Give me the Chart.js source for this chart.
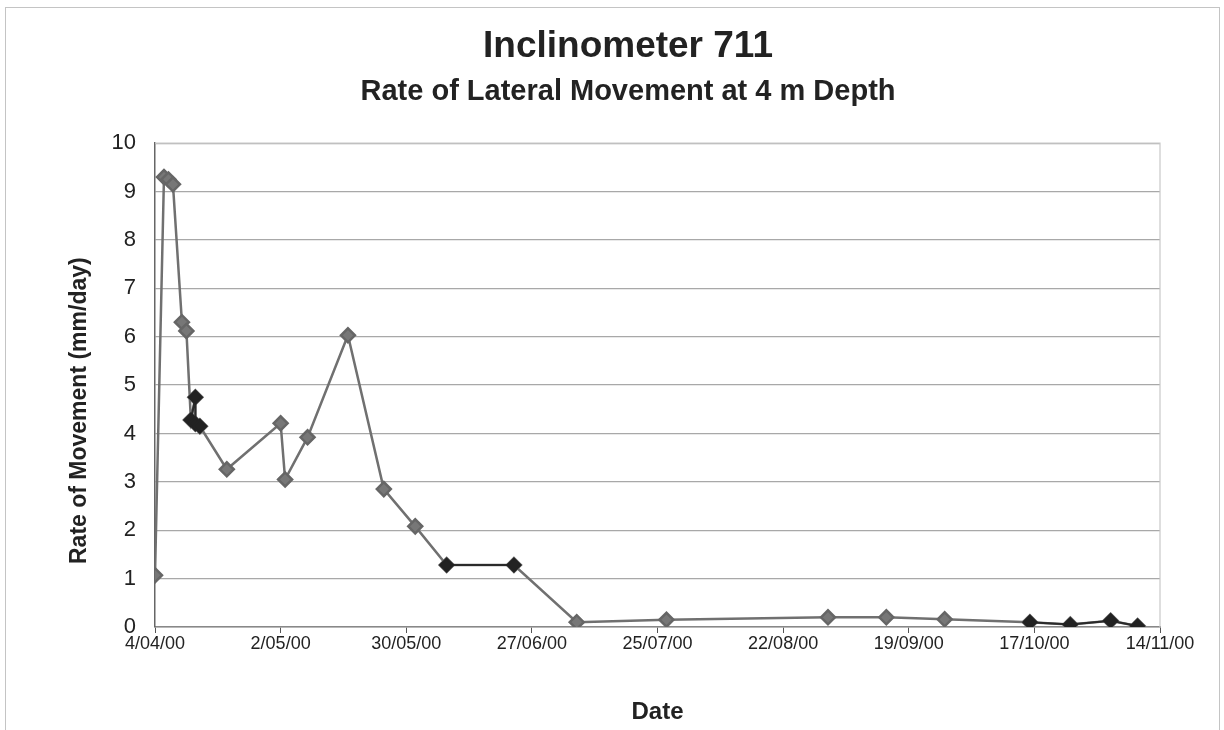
<!DOCTYPE html>
<html>
<head>
<meta charset="utf-8">
<script src="https://cdn.jsdelivr.net/npm/chart.js@4.4.0/dist/chart.umd.min.js"></script>
<style>
  body { margin: 0; background: #fff; }
  #wrap { position: absolute; left: 5px; top: 7px; width: 1213px; height: 740px; border: 1px solid #c4c4c4; }
  #chart { position: absolute; left: 0; top: 0; }
</style>
</head>
<body>
<div id="wrap"></div>
<canvas id="chart" width="1224" height="730"></canvas>
<script>
// Leituras do inclinómetro 711 (datas dd/mm/yy, taxa em mm/dia)
const startDate = '2000-04-04';
const surveyDates = ['2000-04-04', '2000-04-06', '2000-04-07', '2000-04-08', '2000-04-10', '2000-04-11',
    '2000-04-12', '2000-04-13', '2000-04-13', '2000-04-14', '2000-04-20', '2000-05-02', '2000-05-03',
    '2000-05-08', '2000-05-17', '2000-05-25', '2000-06-01', '2000-06-08', '2000-06-23', '2000-07-07',
    '2000-07-27', '2000-09-01', '2000-09-14', '2000-09-27', '2000-10-16', '2000-10-25', '2000-11-03',
    '2000-11-09'];
const rateValues = [1.07, 9.3, 9.25, 9.15, 6.3, 6.12,
    4.28, 4.75, 4.2, 4.15, 3.26, 4.21, 3.05,
    3.92, 6.03, 2.85, 2.08, 1.28, 1.28, 0.1,
    0.15, 0.2, 0.2, 0.16, 0.1, 0.05, 0.13,
    0.02];
// leituras destacadas (marcadores escuros)
const darkDates = ['2000-04-12', '2000-04-13', '2000-04-13', '2000-04-14', null, '2000-06-08', '2000-06-23', null,
    '2000-10-16', '2000-10-25', '2000-11-03', '2000-11-09'];
const darkValues = [4.28, 4.75, 4.2, 4.15, null, 1.28, 1.28, null, 0.1, 0.05, 0.13, 0.02];
const xTickDays = [0, 28, 56, 84, 112, 140, 168, 196, 224];
const yTicks = [0, 1, 2, 3, 4, 5, 6, 7, 8, 9, 10];

const DAY = 86400000;
function toDay(s) {
    const [y, m, d] = s.split('-').map(Number);
    const [y0, m0, d0] = startDate.split('-').map(Number);
    return (Date.UTC(y, m - 1, d) - Date.UTC(y0, m0 - 1, d0)) / DAY;
}
function dayLabel(n) {
    const [y0, m0, d0] = startDate.split('-').map(Number);
    const dt = new Date(Date.UTC(y0, m0 - 1, d0) + n * DAY);
    const dd = dt.getUTCDate();
    const mm = String(dt.getUTCMonth() + 1).padStart(2, '0');
    const yy = String(dt.getUTCFullYear()).slice(2);
    return `${dd}/${mm}/${yy}`;
}

const mainPoints = surveyDates.map((d, i) => ({ x: toDay(d), y: rateValues[i] }));
const darkPoints = darkDates.map((d, i) => d === null ? { x: null, y: null } : { x: toDay(d), y: darkValues[i] });

const FONT = 'Arial, "Liberation Sans", sans-serif';

new Chart(document.getElementById('chart'), {
    type: 'line',
    data: {
        datasets: [
            {
                label: 'Rate',
                data: mainPoints,
                borderColor: '#707070',
                backgroundColor: '#707070',
                borderWidth: 2.5,
                pointStyle: 'rectRot',
                pointRadius: 7,
                pointBackgroundColor: '#777',
                pointBorderColor: '#666',
                tension: 0,
                order: 2
            },
            {
                label: 'Destaque',
                data: darkPoints,
                borderColor: '#2a2a2a',
                backgroundColor: '#2a2a2a',
                borderWidth: 2,
                pointStyle: 'rectRot',
                pointRadius: 6.5,
                pointBackgroundColor: '#222',
                pointBorderColor: '#222',
                spanGaps: false,
                tension: 0,
                order: 1
            }
        ]
    },
    options: {
        responsive: false,
        animation: false,
        // padding esquerdo maior para o título ficar centrado como no original
        layout: { padding: { left: 96, right: 64, top: 0, bottom: 0 } },
        plugins: {
            legend: { display: false },
            tooltip: { enabled: false },
            title: {
                display: true,
                text: 'Inclinometer 711',
                color: '#222',
                font: { family: FONT, size: 37, weight: 'bold' },
                padding: { top: 25, bottom: 2 }
            },
            subtitle: {
                display: true,
                text: 'Rate of Lateral Movement at 4 m Depth',
                color: '#222',
                font: { family: FONT, size: 29, weight: 'bold' },
                padding: { top: 3, bottom: 34 }
            }
        },
        scales: {
            x: {
                type: 'linear',
                min: 0,
                max: 224,
                afterBuildTicks: axis => { axis.ticks = xTickDays.map(v => ({ value: v })); },
                afterFit: axis => { axis.height = 103; },
                ticks: {
                    callback: v => dayLabel(v),
                    color: '#222',
                    font: { family: FONT, size: 18 },
                    maxRotation: 0,
                    autoSkip: false,
                    padding: 0
                },
                grid: { drawOnChartArea: false, drawTicks: true, tickLength: 6, color: '#555' },
                border: { color: '#888', width: 1.5 },
                title: {
                    display: true,
                    text: 'Date',
                    color: '#222',
                    font: { family: FONT, size: 24, weight: 'bold' },
                    padding: { top: 0, bottom: 3 }
                }
            },
            y: {
                min: 0,
                max: 10,
                afterBuildTicks: axis => { axis.ticks = yTicks.map(v => ({ value: v })); },
                afterFit: axis => { axis.width = 59; },
                ticks: {
                    color: '#222',
                    font: { family: FONT, size: 22 },
                    padding: 19
                },
                grid: { color: '#a8a8a8', lineWidth: 1.3, drawTicks: false },
                border: { color: '#666', width: 1.5 },
                title: {
                    display: true,
                    // espaços no fim descem o texto, como no original
                    text: 'Rate of Movement (mm/day)        ',
                    color: '#222',
                    font: { family: FONT, size: 23, weight: 'bold' },
                    padding: { top: -30, bottom: 0 }
                }
            }
        }
    },
    plugins: [{
        id: 'plotFrame',
        afterDraw(chart) {
            const { ctx, chartArea: a } = chart;
            ctx.save();
            ctx.strokeStyle = '#c8c8c8';
            ctx.lineWidth = 1.2;
            ctx.beginPath();
            ctx.moveTo(a.left, a.top);
            ctx.lineTo(a.right, a.top);
            ctx.lineTo(a.right, a.bottom);
            ctx.stroke();
            ctx.restore();
        }
    }]
});
</script>
</body>
</html>
